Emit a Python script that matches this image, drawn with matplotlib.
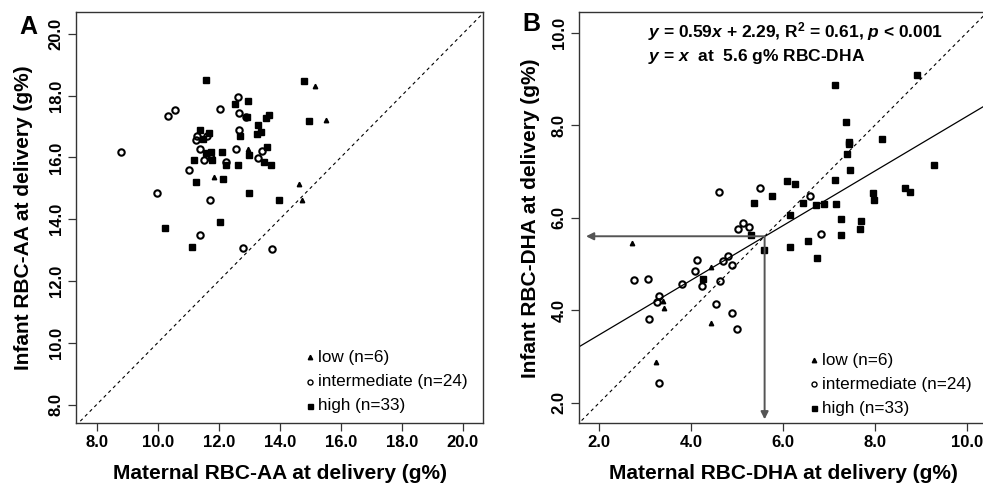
import numpy as np
import matplotlib
matplotlib.use("Agg")
import matplotlib.pyplot as plt

plt.rcParams['font.family'] = ['Liberation Sans', 'DejaVu Sans']
plt.rcParams['mathtext.fontset'] = 'custom'
plt.rcParams['mathtext.rm'] = 'Liberation Sans:bold'
plt.rcParams['mathtext.it'] = 'Liberation Sans:italic:bold'
plt.rcParams['mathtext.bf'] = 'Liberation Sans:bold'

# ---- panel A : RBC-AA (maternal x, infant y) ----
a_low_x = [15.17, 15.51, 12.96, 11.84, 14.63, 14.74]
a_low_y = [18.32, 17.22, 16.27, 15.38, 15.13, 14.61]
a_int_x = [8.80, 10.33, 10.55, 12.05, 12.64, 12.67, 12.88, 12.67, 11.28, 11.25, 11.63, 11.39,
           12.57, 13.43, 13.30, 11.53, 11.74, 12.24, 11.02, 9.97, 11.70, 11.37, 12.78, 13.74]
a_int_y = [16.19, 17.34, 17.53, 17.58, 17.97, 17.45, 17.30, 16.90, 16.68, 16.55, 16.69, 16.28,
           16.27, 16.20, 15.98, 15.90, 15.99, 15.86, 15.60, 14.84, 14.61, 13.48, 13.07, 13.05]
a_high_x = [11.58, 14.80, 12.54, 12.97, 13.65, 13.55, 14.96, 12.92, 13.28, 13.38, 13.25, 12.70,
            11.39, 11.68, 11.50, 13.57, 12.10, 11.74, 11.57, 11.77, 11.20, 13.00, 13.48, 13.70,
            12.62, 12.23, 12.15, 11.25, 13.00, 13.98, 12.04, 10.24, 11.13]
a_high_y = [18.49, 18.47, 17.73, 17.81, 17.38, 17.26, 17.17, 17.30, 17.04, 16.83, 16.76, 16.68,
            16.89, 16.80, 16.60, 16.35, 16.17, 16.17, 16.14, 15.90, 15.90, 16.08, 15.84, 15.74,
            15.74, 15.74, 15.31, 15.21, 14.84, 14.63, 13.92, 13.72, 13.11]

# ---- panel B : RBC-DHA ----
b_low_x = [2.71, 4.43, 3.41, 3.39, 4.43, 3.23]
b_low_y = [5.45, 4.94, 4.05, 4.19, 3.72, 2.89]
b_int_x = [4.61, 5.49, 6.58, 5.12, 5.03, 5.25, 6.83, 4.13, 4.08, 4.70, 4.81, 4.90,
           2.76, 3.07, 3.79, 4.23, 4.63, 3.29, 3.26, 4.54, 3.08, 4.89, 5.00, 3.29]
b_int_y = [6.55, 6.65, 6.48, 5.89, 5.76, 5.81, 5.65, 5.08, 4.85, 5.06, 5.18, 4.98,
           4.65, 4.67, 4.56, 4.52, 4.64, 4.30, 4.18, 4.14, 3.80, 3.93, 3.60, 2.42]
b_high_x = [7.13, 8.92, 7.37, 7.43, 8.16, 7.40, 7.45, 9.28, 6.08, 6.26, 7.13, 7.97,
            7.98, 8.66, 8.77, 5.76, 5.36, 6.44, 6.71, 6.89, 7.16, 6.15, 7.27, 7.70,
            7.67, 7.27, 5.30, 5.59, 6.15, 6.55, 6.74, 4.25, 7.43]
b_high_y = [8.88, 9.09, 8.08, 7.64, 7.71, 7.39, 7.04, 7.15, 6.79, 6.72, 6.81, 6.54,
            6.38, 6.65, 6.55, 6.48, 6.32, 6.32, 6.27, 6.29, 6.30, 6.05, 5.98, 5.94,
            5.76, 5.63, 5.62, 5.31, 5.37, 5.49, 5.12, 4.67, 7.60]

slope, intercept = 0.59, 2.29
cross = 5.6

a_ticks = [8.0, 10.0, 12.0, 14.0, 16.0, 18.0, 20.0]
b_ticks = [2.0, 4.0, 6.0, 8.0, 10.0]
legend_labels = ['low (n=6)', 'intermediate (n=24)', 'high (n=33)']

W, H = 983, 486
fig = plt.figure(figsize=(W / 100, H / 100), dpi=100)

def fx(px):
    return px / W

def fy(py):
    return 1 - py / H

axA = fig.add_axes([fx(76), fy(423.5), 407.3 / W, 411 / H])
axB = fig.add_axes([fx(579.3), fy(423.5), 408 / W, 411 / H])

def style(ax, ticks, xlim, ylim):
    ax.set_xlim(*xlim)
    ax.set_ylim(*ylim)
    ax.set_xticks(ticks)
    ax.set_xticklabels(['%.1f' % t for t in ticks], fontweight='bold', fontsize=12)
    ax.set_yticks(ticks)
    ax.set_yticklabels(['%.1f' % t for t in ticks], fontweight='bold', fontsize=12,
                       rotation=90, va='center')
    ax.tick_params(axis='both', length=6, width=0.9, color='#333333')
    ax.tick_params(axis='x', pad=2)
    ax.tick_params(axis='y', pad=3)
    for s in ax.spines.values():
        s.set_color('#333333')
        s.set_linewidth(1.0)

def points(ax, lx, ly, ix, iy, hx, hy):
    ax.plot(lx, ly, '^', color='black', ms=3.2, ls='none')
    ax.plot(ix, iy, 'o', mfc='none', mec='black', mew=1.5, ms=4.6, ls='none')
    ax.plot(hx, hy, 's', color='black', ms=4.0, ls='none')

# panel A
style(axA, a_ticks, (7.32, 20.675), (7.385, 20.69))
xx = np.array([7.0, 21.0])
axA.plot(xx, xx, color='black', lw=0.8, ls=(0, (3, 3)))
points(axA, a_low_x, a_low_y, a_int_x, a_int_y, a_high_x, a_high_y)

# panel B
style(axB, b_ticks, (1.564, 10.45), (1.55, 10.44))
xx = np.array([1.0, 11.0])
axB.plot(xx, xx, color='black', lw=0.8, ls=(0, (3, 3)))
axB.plot(xx, slope * xx + intercept, color='black', lw=0.9)
points(axB, b_low_x, b_low_y, b_int_x, b_int_y, b_high_x, b_high_y)
arrow = dict(arrowstyle='-|>', color='#555555', lw=1.4, mutation_scale=11, shrinkA=0, shrinkB=0)
axB.annotate('', xy=(1.71, cross), xytext=(cross, cross), arrowprops=arrow)
axB.annotate('', xy=(cross, 1.64), xytext=(cross, cross), arrowprops=arrow)

axB.text(fx(647.7), fy(31.5), '$y$ = 0.59$x$ + 2.29, R$^2$ = 0.61, $p$ < 0.001',
         transform=fig.transFigure, fontsize=12.5, fontweight='bold', va='center', ha='left')
axB.text(fx(647.7), fy(56.5), '$y$ = $x$  at  5.6 g% RBC-DHA',
         transform=fig.transFigure, fontsize=12.5, fontweight='bold', va='center', ha='left')

# axis labels and panel letters
fig.text(fx(279.6), fy(473), 'Maternal RBC-AA at delivery (g%)', fontsize=15,
         fontweight='bold', ha='center', va='center')
fig.text(fx(783.3), fy(473), 'Maternal RBC-DHA at delivery (g%)', fontsize=15,
         fontweight='bold', ha='center', va='center')
fig.text(fx(24), fy(218), 'Infant RBC-AA at delivery (g%)', fontsize=15,
         fontweight='bold', ha='center', va='center', rotation=90)
fig.text(fx(531), fy(218), 'Infant RBC-DHA at delivery (g%)', fontsize=15,
         fontweight='bold', ha='center', va='center', rotation=90)
fig.text(fx(28), fy(26.5), 'A', fontsize=18, fontweight='bold', ha='center', va='center')
fig.text(fx(531.5), fy(24), 'B', fontsize=18, fontweight='bold', ha='center', va='center')

# legends
mk = [dict(marker='^', color='black', ms=3.2),
      dict(marker='o', mfc='none', mec='black', mew=1.0, ms=3.6),
      dict(marker='s', color='black', ms=3.6)]
for mx, rows in [(310, [357.3, 381.7, 405.7]), (814, [360, 384, 408.3])]:
    for style_kw, lab, ry in zip(mk, legend_labels, rows):
        fig.add_artist(plt.Line2D([fx(mx)], [fy(ry)], ls='none', transform=fig.transFigure,
                                  **style_kw))
        fig.text(fx(mx + 8.5), fy(ry), lab, fontsize=12.3, ha='left', va='center')

fig.savefig('out.png', dpi=100)
